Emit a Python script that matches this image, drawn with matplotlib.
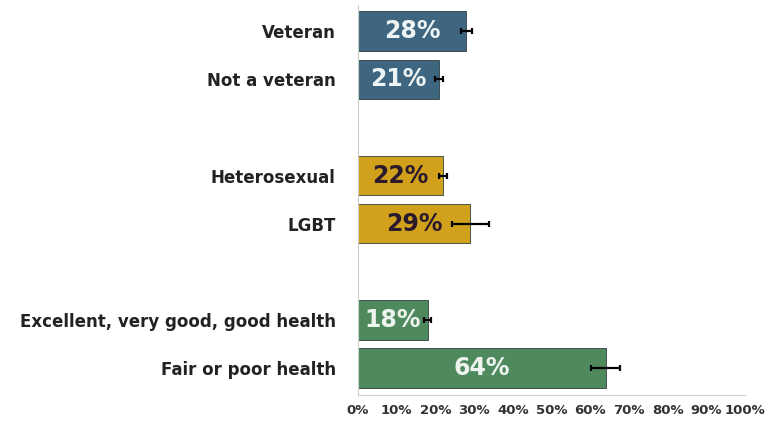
import matplotlib
matplotlib.use("Agg")
import matplotlib.pyplot as plt

categories = ["Veteran", "Not a veteran", "Heterosexual", "LGBT",
              "Excellent, very good, good health", "Fair or poor health"]
values = [28, 21, 22, 29, 18, 64]
errors = [1.5, 1.0, 1.0, 4.8, 1.0, 3.7]
positions = [0, 1, 3, 4, 6, 7]
colors = ["#3e6681", "#3e6681", "#d2a11c", "#d2a11c", "#4f8a5f", "#4f8a5f"]
text_colors = ["#eef4f4", "#eef4f4", "#2b1a2b", "#2b1a2b", "#eef4ee", "#eef4ee"]
ticks = list(range(0, 101, 10))
tick_labels = [f"{t}%" for t in ticks]

fig = plt.figure(figsize=(7.73, 4.24), dpi=100)
ax = fig.add_axes([0.463, 0.068, 0.501, 0.92])

ax.barh(positions, values, height=0.82, color=colors, edgecolor="#2f3f3f", linewidth=0.6)
ax.errorbar(values, positions, xerr=errors, fmt="none", ecolor="black",
            elinewidth=1.6, capsize=2, capthick=1.6)

for p, v, tc in zip(positions, values, text_colors):
    ax.text(v / 2, p, f"{v}%", ha="center", va="center", fontsize=17,
            fontweight="bold", color=tc, family="DejaVu Sans")

ax.set_xlim(0, 100)
ax.set_ylim(7.56, -0.54)
ax.set_yticks(positions)
ax.set_yticklabels(categories, fontsize=12, fontweight="bold", family="DejaVu Sans", color="#222222")
ax.set_xticks(ticks)
ax.set_xticklabels(tick_labels, fontsize=9.5, fontweight="bold", family="DejaVu Sans", color="#333333")
ax.tick_params(axis="y", length=0, pad=16)
ax.tick_params(axis="x", length=0, pad=6)
for s in ["top", "right"]:
    ax.spines[s].set_visible(False)
ax.spines["left"].set_color("#c8d0c8")
ax.spines["bottom"].set_color("#d0d0d0")

fig.savefig("out.png", dpi=100)
